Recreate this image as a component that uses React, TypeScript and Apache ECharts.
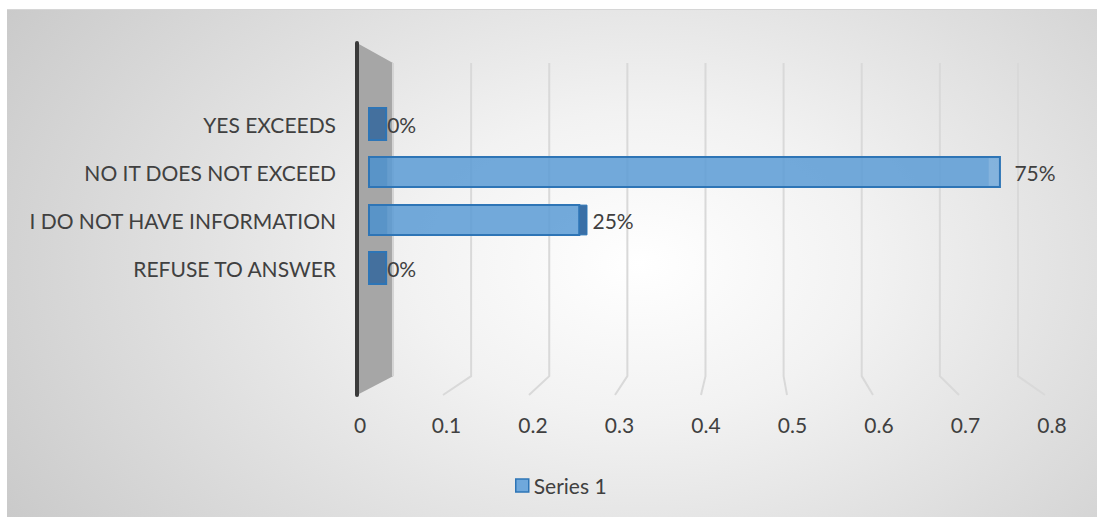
import React, { useEffect, useRef } from "react";
import * as echarts from "echarts";

const categories = ["YES EXCEEDS", "NO IT DOES NOT EXCEED", "I DO NOT HAVE INFORMATION", "REFUSE TO ANSWER"];
const values = [0, 0.75, 0.25, 0];
const valueLabels = ["0%", "75%", "25%", "0%"];
const xTicks = [0, 0.1, 0.2, 0.3, 0.4, 0.5, 0.6, 0.7, 0.8];
const seriesName = "Series 1";

const FONT = "Lato, 'Noto Sans', sans-serif";
const FS = 21;
const TEXT = "#404040";
// perspective (vanishing point and depth scaling) for the 3D look
const VX = 743;
const SX = 1.1008;
const VY = 214;
const SY = 1.124;
const back = (p: number[]) => [VX + (p[0] - VX) / SX, VY + (p[1] - VY) / SY];

export default function App() {
  const ref = useRef<HTMLDivElement>(null);
  useEffect(() => {
    if (!ref.current) return;
    const chart = echarts.init(ref.current, null, { renderer: "svg" });
    const option: any = {
      animation: false,
      backgroundColor: "transparent",
      textStyle: { fontFamily: FONT },
      legend: {
        data: [
          {
            name: seriesName,
            icon: "rect",
            itemStyle: { color: "#6fa8dc", borderColor: "#2e75b6", borderWidth: 1.5 },
          },
        ],
        left: 503,
        top: 460,
        itemWidth: 13,
        itemHeight: 13,
        textStyle: { fontSize: FS, color: TEXT, fontFamily: FONT },
      },
      grid: [
        { left: 350, right: 52, top: 33, bottom: 122 },
        { left: 362, right: 55, top: 90, bottom: 225 },
        { left: 353, right: 45, top: 33, bottom: 122 },
      ],
      xAxis: [
        {
          gridIndex: 0,
          type: "value",
          min: 0,
          max: 0.8,
          interval: 0.1,
          show: false,
          splitLine: { show: false },
        },
        {
          gridIndex: 1,
          type: "value",
          min: 0,
          max: 0.8,
          show: false,
          splitLine: { show: false },
        },
        {
          gridIndex: 2,
          type: "value",
          min: 0,
          max: 0.8,
          interval: 0.1,
          axisLine: { show: false },
          axisTick: { show: false },
          splitLine: { show: false },
          axisLabel: { fontSize: FS, color: TEXT, fontFamily: FONT, margin: 19 },
        },
      ],
      yAxis: [
        { gridIndex: 0, type: "value", min: 0, max: 1, show: false, splitLine: { show: false } },
        {
          gridIndex: 1,
          type: "category",
          data: categories,
          inverse: true,
          axisLine: { show: false },
          axisTick: { show: false },
          splitLine: { show: false },
          axisLabel: { fontSize: FS, color: TEXT, fontFamily: FONT, margin: 33 },
        },
        { gridIndex: 2, type: "value", min: 0, max: 1, show: false, splitLine: { show: false } },
      ],
      series: [
        {
          type: "custom",
          name: "grid3d",
          xAxisIndex: 0,
          yAxisIndex: 0,
          silent: true,
          z: 1,
          data: xTicks.map((v) => [v, 0]),
          renderItem: (params: any, api: any) => {
            const v = api.value(0);
            const ft = api.coord([v, 1]);
            const fb = api.coord([v, 0]);
            const bt = back(ft);
            const bb = back(fb);
            if (v === 0) {
              return {
                type: "group",
                children: [
                  {
                    type: "polygon",
                    shape: { points: [ft, bt, bb, fb] },
                    style: { fill: "#a6a6a6" },
                  },
                  {
                    type: "line",
                    shape: { x1: bt[0], y1: bt[1], x2: bb[0], y2: bb[1] },
                    style: { stroke: "#d4d4d4", lineWidth: 2 },
                  },
                  {
                    type: "line",
                    shape: { x1: ft[0], y1: ft[1], x2: fb[0], y2: fb[1] },
                    style: { stroke: "#3a3a3a", lineWidth: 4, lineCap: "round" },
                  },
                ],
              };
            }
            return {
              type: "polyline",
              shape: { points: [bt, bb, fb] },
              style: { stroke: "#d9d9d9", lineWidth: 2, fill: "none" },
            };
          },
        },
        {
          type: "custom",
          name: seriesName,
          xAxisIndex: 1,
          yAxisIndex: 1,
          z: 5,
          itemStyle: { color: "#6fa8dc" },
          data: values.map((v, i) => [v, i]),
          renderItem: (params: any, api: any) => {
            const v = api.value(0);
            const idx = api.value(1);
            const c0 = api.coord([0, idx]);
            const c1 = api.coord([v, idx]);
            const h = api.size([0, 1])[1] * 0.62;
            const y0 = c0[1] - h / 2;
            const w0 = (VX - c0[0]) * 0.045;
            const w = (VX - c1[0]) * 0.045;
            const children: any[] = [];
            if (v > 0) {
              children.push({
                type: "rect",
                shape: { x: c0[0], y: y0, width: c1[0] - c0[0], height: h },
                style: { fill: "rgba(91,155,213,0.85)", stroke: "#2e75b6", lineWidth: 2 },
              });
              children.push({
                type: "rect",
                shape: { x: c0[0] + 1, y: y0 + 1, width: w0, height: h - 2 },
                style: { fill: "rgba(46,117,182,0.22)" },
              });
              if (w > 0) {
                children.push({
                  type: "rect",
                  shape: { x: c1[0], y: y0, width: w, height: h },
                  style: { fill: "#3a6fa6", stroke: "#2e75b6", lineWidth: 1 },
                });
              } else {
                children.push({
                  type: "rect",
                  shape: { x: c1[0] + w, y: y0 + 1, width: -w - 1, height: h - 2 },
                  style: { fill: "rgba(255,255,255,0.14)" },
                });
              }
            } else {
              children.push({
                type: "rect",
                shape: { x: c0[0], y: y0 - 1, width: w0, height: h + 2 },
                style: { fill: "#44709e", stroke: "#2e75b6", lineWidth: 2 },
              });
            }
            const endX = v > 0 ? c1[0] + Math.max(w, 0) : c0[0] + w0;
            children.push({
              type: "text",
              style: {
                x: endX + 1 + 18 * v,
                y: c1[1],
                text: valueLabels[idx],
                fill: TEXT,
                fontSize: FS,
                fontFamily: FONT,
                verticalAlign: "middle",
                align: "left",
              },
            });
            return { type: "group", children };
          },
        },
      ],
    };
    chart.setOption(option);
    return () => chart.dispose();
  }, []);
  return (
    <div
      ref={ref}
      style={{
        position: "absolute",
        left: 7,
        top: 9,
        width: 1090,
        height: 508,
        borderTop: "1px solid #d6d6d6",
        boxSizing: "border-box",
        background:
          "radial-gradient(ellipse 70% 100% at 58% 50%, #ffffff 0%, #f2f2f2 30%, #c8c8c8 100%)",
      }}
    />
  );
}
